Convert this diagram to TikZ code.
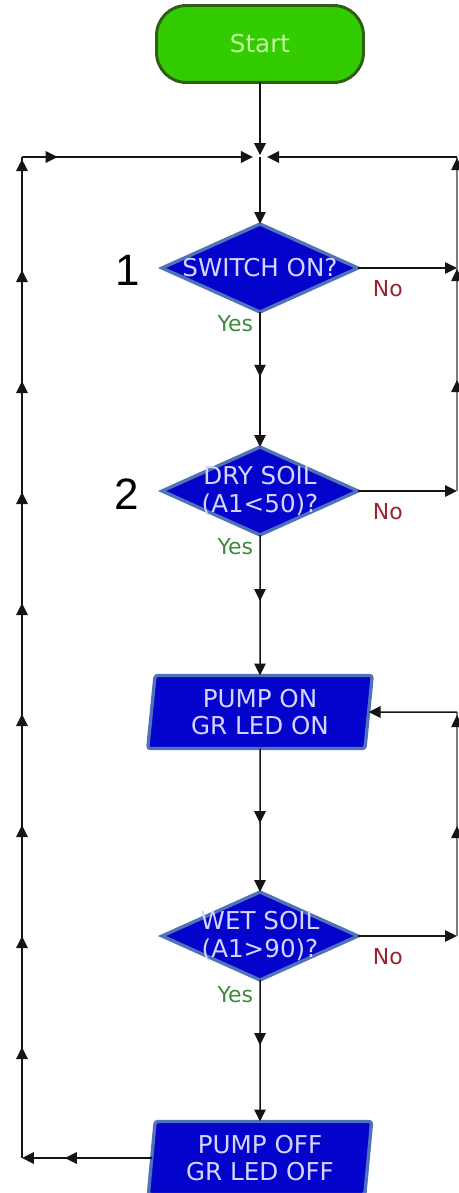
\documentclass[tikz,border=0pt]{standalone}
\usepackage{fontspec}
\setmainfont{DejaVu Sans}
\newfontfamily\stepfont{Liberation Sans}
\usetikzlibrary{arrows.meta,shapes.geometric,decorations.markings}

\begin{document}
\begin{tikzpicture}[
  x=0.02cm, y=-0.02cm,
  font=\fontsize{14}{15.4}\selectfont,
  every node/.style={inner sep=0pt, outer sep=0pt},
  flowtip/.tip={Triangle[length=2.4mm,width=2.3mm,color=ink]},
  wire/.style={draw=ink, line width=0.85pt},
  loopwire/.style={draw=ink, line width=1.1pt},
  sidewire/.style={draw=ink!55, line width=0.6pt},
  tipsat/.style 2 args={postaction={decorate}, decoration={markings,
    mark=between positions #1 and #2 step 2.22cm with {\arrow{flowtip}}}},
  tipmid/.style={postaction={decorate}, decoration={markings,
    mark=at position #1 with {\arrow{flowtip}}}},
  startbox/.style={rectangle, rounded corners=0.6cm, minimum width=4.14cm,
    minimum height=1.54cm, fill=startgreen, draw=startedge, line width=1.7pt,
    text=starttext},
  decision/.style={diamond, minimum width=3.92cm, minimum height=1.76cm,
    fill=blockblue, draw=blockedge, line width=1.9pt},
  dtext/.style={text=blocktext, align=center},
  iobox/.style={trapezium, trapezium left angle=84, trapezium right angle=96,
    trapezium stretches=true, minimum width=4.5cm, minimum height=1.46cm,
    fill=blockblue, draw=blockedge, line width=1.9pt, rounded corners=1.5pt,
    text=blocktext, align=center},
  nolbl/.style={text=noRed, font=\fontsize{12.5}{14}\selectfont},
  yeslbl/.style={text=yesGreen, font=\fontsize{12.5}{14}\selectfont},
  stepno/.style={font=\stepfont\fontsize{25}{28}\selectfont},
]

\definecolor{startgreen}{HTML}{33CC00}
\definecolor{startedge}{HTML}{2D5E12}
\definecolor{starttext}{HTML}{C5F7A5}
\definecolor{blockblue}{HTML}{0303CC}
\definecolor{blockedge}{HTML}{4F72B8}
\definecolor{blocktext}{HTML}{D4D4FF}
\definecolor{noRed}{HTML}{992233}
\definecolor{yesGreen}{HTML}{3E8A3E}
\definecolor{ink}{HTML}{151515}

\def\cx{260}   % main column
\def\lx{22}    % left return line
\def\rx{457}   % right return lines

\useasboundingbox (0,0) rectangle (459,1193);

% blocks
\node[startbox] (start) at (\cx,44) {Start};
\coordinate (top) at (\cx,157);
\node[decision, label={[dtext]center:SWITCH ON?}] (sw) at (\cx,268) {};
\node[decision, label={[dtext]center:{DRY SOIL\\(A1<50)?}}] (dry) at (\cx,491) {};
\node[iobox] (on) at (\cx,712) {PUMP ON\\GR LED ON};
\node[decision, label={[dtext]center:{WET SOIL\\(A1>90)?}}] (wet) at (\cx,936) {};
\node[iobox] (off) at (\cx,1158) {PUMP OFF\\GR LED OFF};

% step numbers
\node[stepno] (n1) at (128,270) {1};
\node[stepno] (n2) at (127,494) {2};

% yes / no
\node[nolbl, anchor=west] (swno) at ([xshift=0.3cm, yshift=-0.42cm]sw.east) {No};
\node[nolbl, anchor=west] (dryno) at ([xshift=0.3cm, yshift=-0.42cm]dry.east) {No};
\node[nolbl, anchor=west] (wetno) at ([xshift=0.3cm, yshift=-0.42cm]wet.east) {No};
\node[yeslbl, anchor=east] (swyes) at ([xshift=-0.14cm, yshift=-0.24cm]sw.south) {Yes};
\node[yeslbl, anchor=east] (dryyes) at ([xshift=-0.14cm, yshift=-0.24cm]dry.south) {Yes};
\node[yeslbl, anchor=east] (wetyes) at ([xshift=-0.14cm, yshift=-0.3cm]wet.south) {Yes};

% corners of the return lines
\coordinate (ltop) at (\lx,157);
\coordinate (lbot) at (\lx,1158);
\coordinate (rtop) at (\rx,157);
\coordinate (rsw) at (\rx,268);
\coordinate (rdry) at (\rx,491);
\coordinate (ron) at (\rx,712);
\coordinate (rwet) at (\rx,936);

% main column
\draw[wire, -flowtip, shorten >=1pt] (start) -- (top);
\draw[wire, -flowtip] (top) -- (sw);
\draw[wire, tipmid=0.48, -flowtip] (sw) -- (dry);
\draw[wire, tipmid=0.47, -flowtip] (dry) -- (on);
\draw[wire, tipmid=0.52, -flowtip] (on) -- (wet);
\draw[wire, tipmid=0.46, -flowtip] (wet) -- (off);

% no branches, back to the top
\draw[wire, -flowtip] (sw) -- (rsw);
\draw[wire, -flowtip] (dry) -- (rdry);
\draw[sidewire, tipsat={2.22cm}{6.69cm}] (rdry) -- (rtop);
\draw[wire, -flowtip, shorten >=4pt] (rtop) -- (top);

% wet soil loop
\draw[wire, -flowtip] (wet) -- (rwet);
\draw[sidewire, tipsat={2.2cm}{4.46cm}] (rwet) -- (ron);
\draw[wire, -flowtip] (ron) -- (on);

% left return line
\draw[loopwire, tipmid=0.67, -flowtip] (off) -- (lbot);
\draw[loopwire, tipsat={2.22cm}{20cm}] (lbot) -- (ltop);
\draw[loopwire, tipmid=0.15, -flowtip, shorten >=4pt] (ltop) -- (top);

\end{tikzpicture}
\end{document}
